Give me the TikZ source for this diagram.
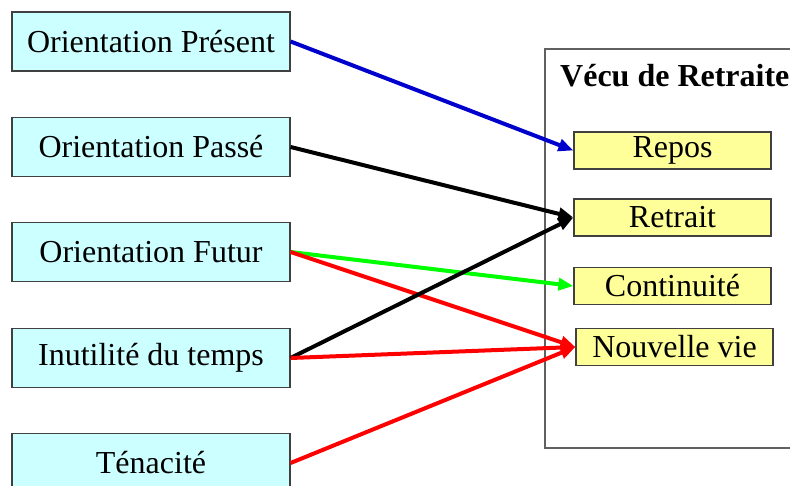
\documentclass[tikz,border=0pt]{standalone}
\usepackage{fontspec}
\setmainfont{Liberation Serif}
\usetikzlibrary{arrows.meta}
\definecolor{cyanfill}{HTML}{CCFFFF}
\definecolor{yelfill}{HTML}{FFFF99}
\definecolor{boxline}{HTML}{404040}
\definecolor{frameline}{HTML}{606060}
\definecolor{arrblue}{HTML}{0000CC}
\definecolor{arrgreen}{HTML}{00FF00}
\definecolor{arrred}{HTML}{FF0000}
\begin{document}
\begin{tikzpicture}[x=1pt,y=-1pt,
  leftbox/.style={draw=boxline,line width=1.2pt,fill=cyanfill,minimum width=278pt,minimum height=59pt,inner sep=0pt,font=\fontsize{32}{37}\selectfont},
  rightbox/.style={draw=boxline,line width=1.2pt,fill=yelfill,minimum width=197pt,minimum height=37pt,inner sep=0pt,font=\fontsize{32}{37}\selectfont},
  conn/.style={line width=4pt,-{Triangle[length=15pt,width=12pt]}}]
\useasboundingbox (0,0) rectangle (790,486);
% frame
\draw[frameline,line width=1.2pt] (800,49) -- (545,49) -- (545,448) -- (800,448);
\node[font=\bfseries\fontsize{32}{37}\selectfont,anchor=west,inner sep=0pt] (title) at (560,76) {Vécu de Retraite};
% left boxes
\node[leftbox] (pres) at (151,41.5) {Orientation Présent};
\node[leftbox] (pass) at (151,147) {Orientation Passé};
\node[leftbox] (fut) at (151,252) {Orientation Futur};
\node[leftbox] (inut) at (151,358) {Inutilité du temps};
\node[leftbox] (ten) at (151,463) {Ténacité};
% right boxes
\node[rightbox] (repos) at (672.5,150.5) {Repos};
\node[rightbox] (retr) at (672.5,217.5) {Retrait};
\node[rightbox] (cont) at (672.5,286) {Continuité};
\node[rightbox] (nouv) at (674.5,347) {Nouvelle vie};
% connectors
\draw[conn,arrblue] (pres.east) -- (repos.west);
\draw[conn,black] (pass.east) -- (retr.west);
\draw[conn,arrgreen] (fut.east) -- (cont.west);
\draw[conn,arrred] (fut.east) -- (nouv.west);
\draw[conn,black] (inut.east) -- (retr.west);
\draw[conn,arrred] (inut.east) -- (nouv.west);
\draw[conn,arrred] (ten.east) -- (nouv.west);
\end{tikzpicture}
\end{document}
